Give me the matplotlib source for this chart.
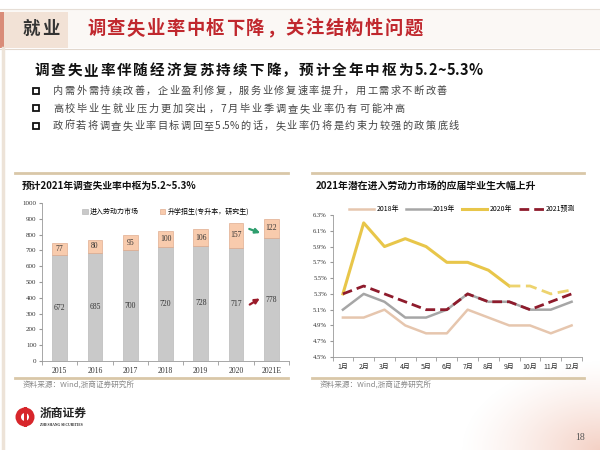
import numpy as np
import matplotlib
matplotlib.use("Agg")
import matplotlib.pyplot as plt
from matplotlib import font_manager
from matplotlib.font_manager import FontProperties
from matplotlib.patches import Rectangle, Circle

plt.rcParams['font.family'] = ['Noto Sans CJK SC', 'DejaVu Sans']

# bar chart data
years = ['2015', '2016', '2017', '2018', '2019', '2020', '2021E']
labour = [672, 685, 700, 720, 728, 717, 778]
study = [77, 80, 95, 100, 106, 157, 122]

# line chart data (%)
months = ['1月', '2月', '3月', '4月', '5月', '6月', '7月', '8月', '9月', '10月', '11月', '12月']
u2018 = [5.0, 5.0, 5.1, 4.9, 4.8, 4.8, 5.1, 5.0, 4.9, 4.9, 4.8, 4.9]
u2019 = [5.1, 5.3, 5.2, 5.0, 5.0, 5.1, 5.3, 5.2, 5.2, 5.1, 5.1, 5.2]
u2020 = [5.3, 6.2, 5.9, 6.0, 5.9, 5.7, 5.7, 5.6, 5.4, 5.4, 5.3, 5.35]
u2021 = [5.3, 5.4, 5.3, 5.2, 5.1, 5.1, 5.3, 5.2, 5.2, 5.1, 5.2, 5.3]

bullets = [
    '内需外需持续改善，企业盈利修复，服务业修复速率提升，用工需求不断改善',
    '高校毕业生就业压力更加突出，7月毕业季调查失业率仍有可能冲高',
    '政府若将调查失业率目标调回至5.5%的话，失业率仍将是约束力较强的政策底线',
]
bullet_ends = [447, 405, 459]

W, H = 600, 450


def fx(x):
    return x / W


def fy(y):
    return 1 - y / H


fig = plt.figure(figsize=(6, 4.5), dpi=100)
fig.patch.set_facecolor('white')


def advances(s, size, weight):
    path = font_manager.findfont(FontProperties(family='Noto Sans CJK SC', weight=weight))
    font = font_manager.get_font(path)
    font.set_size(size, 100)
    return [font.load_char(ord(c)).linearHoriAdvance / 65536 for c in s]


def fit_text(x0, x1, y, s, size, weight='normal', **kw):
    # spread a CJK string char by char so that it runs from x0 to x1 (pixels)
    adv = advances(s, size, weight)
    wts = [1.0 if (ord(a) > 0x2000 or ord(b) > 0x2000) else 0.15 for a, b in zip(s, s[1:])]
    track = (x1 - x0 - sum(adv)) / sum(wts)
    base = round(y + 0.38 * size * 100 / 72)  # whole pixel baseline keeps glyphs level
    pen = x0
    for i, c in enumerate(s):
        fig.text(fx(pen), fy(base), c, ha='left', va='baseline', fontsize=size, weight=weight, **kw)
        pen += adv[i] + (track * wts[i] if i < len(wts) else 0)


# slide decorations
bg = fig.add_axes([0, 0, 1, 1], zorder=-5)
bg.set_xlim(0, W)
bg.set_ylim(H, 0)
bg.axis('off')
bg.add_patch(Rectangle((0, 10), 600, 38, fc='#FBF8F5', ec='none'))
bg.add_patch(Rectangle((0, 12), 68, 36, fc='#F2E2D6', ec='none'))
bg.add_patch(Rectangle((0, 12), 4, 36, fc='#D98C78', ec='none'))
bg.plot([0, 600], [9, 9], color='#E6DED6', lw=0.8)
bg.plot([0, 600], [48.5, 48.5], color='#E2D8CE', lw=0.8)
bg.plot([2.5, 2.5], [48, 450], color='#EDE3D8', lw=2.5)
# soft pink corner bottom right
gy, gx = np.mgrid[0:90, 0:140]
grad = np.clip(1 - np.hypot((139 - gx) / 140, (89 - gy) / 90), 0, 1)
img = np.ones((90, 140, 4))
img[..., 0] = 0.93
img[..., 1] = 0.70
img[..., 2] = 0.62
img[..., 3] = grad ** 1.3 * 0.6
bg.imshow(img, extent=(460, 600, 450, 360), aspect='auto', zorder=-1)

fit_text(23, 59, 27, '就业', 12.5, 'bold', color='#333333')
fit_text(87, 423, 27, '调查失业率中枢下降，关注结构性问题', 13.2, 'bold', color='#C0272D')
fit_text(34, 483, 69, '调查失业率伴随经济复苏持续下降，预计全年中枢为5.2~5.3%', 10.5, 'bold',
         color='#111111')
for i, (b, xe) in enumerate(zip(bullets, bullet_ends)):
    yy = 90.5 + i * 17.5
    bg.add_patch(Rectangle((33, yy - 3), 6, 6, fc='white', ec='#111111', lw=1.3))
    fit_text(53, xe, yy, b, 7.3, color='#444444')

# panel frames
for x0, x1 in [(15, 288), (312, 584)]:
    bg.plot([x0, x1], [173, 173], color='#D9C7A8', lw=2)
    bg.plot([x0, x1], [378, 378], color='#D9C7A8', lw=2)
    fig.text(fx(x0 + 8), fy(385), '资料来源：Wind,浙商证券研究所', fontsize=5.5, color='#888888',
             ha='left', va='center')
fig.text(fx(22), fy(186), '预计2021年调查失业率中枢为5.2~5.3%', fontsize=7, color='#111111',
         ha='left', va='center', weight='bold')
fig.text(fx(316), fy(186), '2021年潜在进入劳动力市场的应届毕业生大幅上升', fontsize=7.1, color='#111111',
         ha='left', va='center', weight='bold')

# logo and page number
bg.add_patch(Circle((25, 417), 9.5, fc='#D7262B', ec='none'))
bg.add_patch(Circle((25, 417), 4, fc='white', ec='none'))
bg.add_patch(Rectangle((23.5, 407), 3, 20, fc='#D7262B', ec='none'))
fig.text(fx(40), fy(413), '浙商证券', fontsize=8.5, color='#222222', ha='left', va='center', weight='bold')
fig.text(fx(40), fy(425), 'ZHESHANG SECURITIES', fontsize=2.6, color='#222222', ha='left', va='center',
         family='Liberation Serif', weight='bold')
fig.text(fx(580), fy(438), '18', fontsize=7, color='#555555', ha='center', va='center',
         family='Liberation Serif')

serif = 'Liberation Serif'

# ---- bar chart ----
ax1 = fig.add_axes([fx(42), fy(361), (289 - 42) / W, (361 - 203) / H])
x = np.arange(len(years))
ax1.bar(x, labour, width=0.42, color='#C9C9C9', edgecolor='#B0B0B0', lw=0.4, label='进入劳动力市场')
ax1.bar(x, study, bottom=labour, width=0.42, color='#F8CBAD', edgecolor='#D9A080', lw=0.4,
        label='升学招生(专升本，研究生)')
for xi, a, b in zip(x, labour, study):
    ax1.text(xi, a / 2, str(a), ha='center', va='center', fontsize=5.5, family=serif, color='#333333')
    ax1.text(xi, a + b / 2, str(b), ha='center', va='center', fontsize=5.5, family=serif, color='#333333')
ax1.set_xlim(-0.5, len(years) - 0.5)
ax1.set_ylim(0, 1000)
ax1.set_yticks(range(0, 1001, 100))
ax1.set_xticks(x)
ax1.set_xticklabels(years)
ax1.set_xticks(np.arange(-0.5, len(years), 1), minor=True)
ax1.tick_params(axis='x', which='major', length=0, labelsize=5.5, pad=4, colors='#333333')
ax1.tick_params(axis='x', which='minor', length=3, color='#999999', direction='out')
ax1.tick_params(axis='y', labelsize=5, length=2, color='#999999', colors='#333333', pad=2)
for lab in ax1.get_xticklabels() + ax1.get_yticklabels():
    lab.set_family(serif)
for s in ['top', 'right']:
    ax1.spines[s].set_visible(False)
for s in ['left', 'bottom']:
    ax1.spines[s].set_color('#999999')
    ax1.spines[s].set_linewidth(0.6)
ax1.legend(loc='upper center', bbox_to_anchor=(0.5, 1.01), ncol=2, frameon=False, fontsize=5,
           handlelength=0.8, handleheight=0.8, columnspacing=3, handletextpad=0.3)
ax1.annotate('', xy=(5.76, 804), xytext=(5.3, 842),
             arrowprops=dict(arrowstyle='-|>', color='#2E9E6E', lw=1.6, mutation_scale=7))
ax1.annotate('', xy=(5.74, 405), xytext=(5.32, 348),
             arrowprops=dict(arrowstyle='-|>', color='#9B1B2A', lw=1.6, mutation_scale=7))

# ---- line chart ----
ax2 = fig.add_axes([fx(332.5), fy(357), (582 - 332.5) / W, (357 - 215) / H])
m = np.arange(len(months))
ax2.plot(m, u2018, color='#E6C6AE', lw=1.8, label='2018年')
ax2.plot(m, u2019, color='#A6A6A6', lw=1.8, label='2019年')
ax2.plot(m[:9], u2020[:9], color='#E8C64A', lw=2.2, label='2020年')
ax2.plot(m[8:], u2020[8:], color='#EDD36E', lw=2.0, ls=(0, (4, 2)))
ax2.plot(m, u2021, color='#8E1B2C', lw=2.0, ls=(0, (3.5, 1.8)), label='2021预测')
ax2.set_xlim(-0.5, len(months) - 0.5)
ax2.set_ylim(4.5, 6.3)
yt = np.round(np.arange(4.5, 6.31, 0.2), 1)
ax2.set_yticks(yt)
ax2.set_yticklabels([f'{v:.1f}%' for v in yt])
ax2.set_xticks(m)
ax2.set_xticklabels(months)
ax2.set_xticks(np.arange(-0.5, len(months), 1), minor=True)
ax2.tick_params(axis='x', which='major', length=0, labelsize=5, pad=4, colors='#333333')
ax2.tick_params(axis='x', which='minor', length=3, color='#999999', direction='out')
ax2.tick_params(axis='y', labelsize=4.8, length=2, color='#999999', colors='#333333', pad=2)
for lab in ax2.get_yticklabels():
    lab.set_family(serif)
for s in ['top', 'right']:
    ax2.spines[s].set_visible(False)
for s in ['left', 'bottom']:
    ax2.spines[s].set_color('#999999')
    ax2.spines[s].set_linewidth(0.6)
ax2.legend(loc='center', bbox_to_anchor=(0.52, 1.04), ncol=4, frameon=False, fontsize=5,
           handlelength=3.6, columnspacing=1.0, handletextpad=0.3)

fig.savefig('out.png', dpi=100, facecolor='white')
